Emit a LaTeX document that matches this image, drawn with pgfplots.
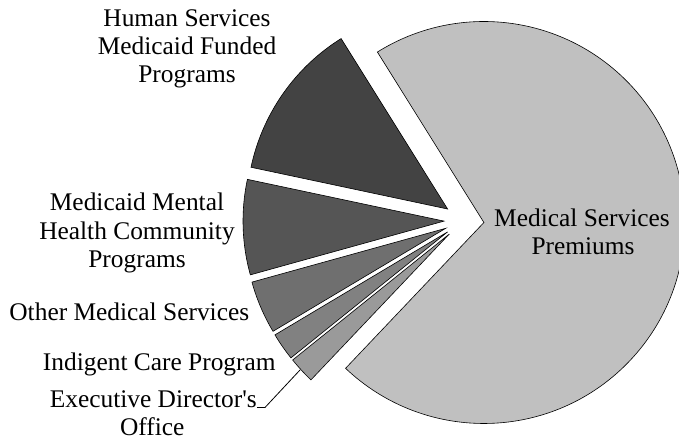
\documentclass[border=0pt]{standalone}
\usepackage{pgfplots}
\usepackage{pgfplotstable}
\pgfplotsset{compat=1.18}
\usepackage{fontspec}
\setmainfont{Liberation Serif}

\definecolor{HS}{HTML}{434343}
\definecolor{MH}{HTML}{555555}
\definecolor{OM}{HTML}{6F6F6F}
\definecolor{IC}{HTML}{818181}
\definecolor{ED}{HTML}{9A9A9A}
\definecolor{MSP}{HTML}{C0C0C0}

% share of the budget, percent, counter-clockwise from 122 degrees
\pgfplotstableread{
value shade
12.78 HS
7.64  MH
4.25  OM
2.22  IC
2.14  ED
70.97 MSP
}\slices

\tikzset{lbl/.style={anchor=base, inner sep=0pt, font=\fontsize{25.4}{28}\selectfont}}

\begin{document}
\begin{tikzpicture}
\begin{axis}[
    hide axis,
    scale only axis,
    width=679pt, height=443pt,
    xmin=0, xmax=679, ymin=0, ymax=443,
    clip=false,
]
\pgfmathsetmacro{\acc}{122}
\pgfplotstablegetrowsof{\slices}
\pgfmathtruncatemacro{\N}{\pgfplotsretval-1}
\pgfplotsforeachungrouped \i in {0,...,\N}{
    \pgfplotstablegetelem{\i}{value}\of\slices \let\v\pgfplotsretval
    \pgfplotstablegetelem{\i}{shade}\of\slices \let\s\pgfplotsretval
    \pgfmathsetmacro{\aa}{\acc}
    \pgfmathsetmacro{\bb}{\acc+3.6*\v}
    \pgfmathsetmacro{\mm}{(\aa+\bb)/2}
    \pgfmathsetmacro{\tx}{464+20*cos(\mm)}
    \pgfmathsetmacro{\ty}{222.5+20*sin(\mm)}
    \edef\doslice{\noexpand\filldraw[fill=\s, draw=black, line width=0.6pt]
        (axis cs:\tx,\ty) -- ++(\aa:201pt)
        arc[start angle=\aa, end angle=\bb, radius=201pt] -- cycle;}
    \doslice
    \global\let\acc\bb
}

% labels
\node[lbl] at (axis cs:187,416.3) {Human Services};
\node[lbl] at (axis cs:187,388) {Medicaid Funded};
\node[lbl] at (axis cs:187,360) {Programs};
\node[lbl] at (axis cs:137,232.3) {Medicaid Mental};
\node[lbl] at (axis cs:137,203.7) {Health Community};
\node[lbl] at (axis cs:137,175.7) {Programs};
\node[lbl] at (axis cs:129.3,122.3) {Other Medical Services};
\node[lbl] at (axis cs:159.3,72.3) {Indigent Care Program};
\node[lbl] at (axis cs:153.3,35.7) {Executive Director\textquotesingle s};
\node[lbl] at (axis cs:152.3,7) {Office};
\node[lbl] at (axis cs:582,216.3) {Medical Services};
\node[lbl] at (axis cs:583,188) {Premiums};
\draw[line width=0.8pt] (axis cs:257,35.5) -- (axis cs:265,35.5) -- (axis cs:300,73);
\end{axis}
\pgfresetboundingbox
\path[use as bounding box] (0,0) rectangle (679pt,443pt);
\end{tikzpicture}
\end{document}
